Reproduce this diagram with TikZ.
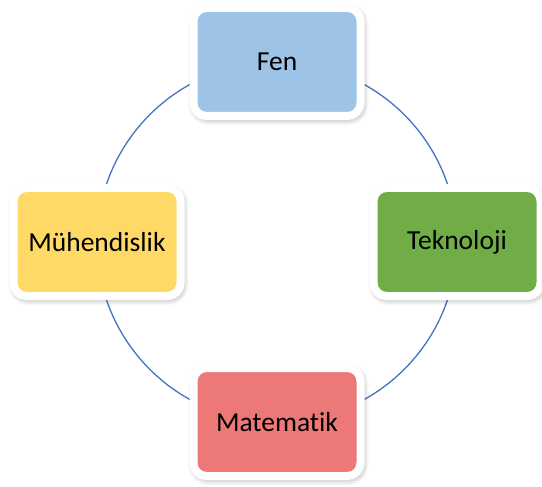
\documentclass[tikz,border=0pt]{standalone}
\usepackage{fontspec}
\setmainfont{Carlito}[Ligatures=NoCommon]
\usetikzlibrary{shadows.blur}
\definecolor{ringblue}{RGB}{68,114,196}
\definecolor{fenblue}{RGB}{157,195,230}
\definecolor{tekgreen}{RGB}{112,173,71}
\definecolor{muhyellow}{RGB}{255,217,102}
\definecolor{matred}{RGB}{237,120,120}
\tikzset{
  card/.style={draw=white, line width=8pt, rounded corners=13pt,
    minimum width=167pt, minimum height=108pt, inner sep=0pt,
    font=\fontsize{27.5}{32}\selectfont, text=black,
    blur shadow={shadow xshift=1.5pt, shadow yshift=-2.5pt,
      shadow blur radius=7pt, shadow blur steps=10, shadow opacity=45}},
  ring/.style={draw=ringblue, line width=1.3pt}
}
\begin{document}
\begin{tikzpicture}[x=1pt,y=-1pt]
  \useasboundingbox (0,0) rectangle (542,487);
  \coordinate (hub) at (277,242);
  \draw[ring] (hub) circle (180pt);
  \node[card, fill=fenblue]   (fen) at (277,62)  {Fen};
  \node[card, fill=tekgreen]  (tek) at (457,242) {Teknoloji};
  \node[card, fill=muhyellow] (muh) at (97,242)  {Mühendislik};
  \node[card, fill=matred]    (mat) at (277,422) {Matematik};
\end{tikzpicture}
\end{document}
